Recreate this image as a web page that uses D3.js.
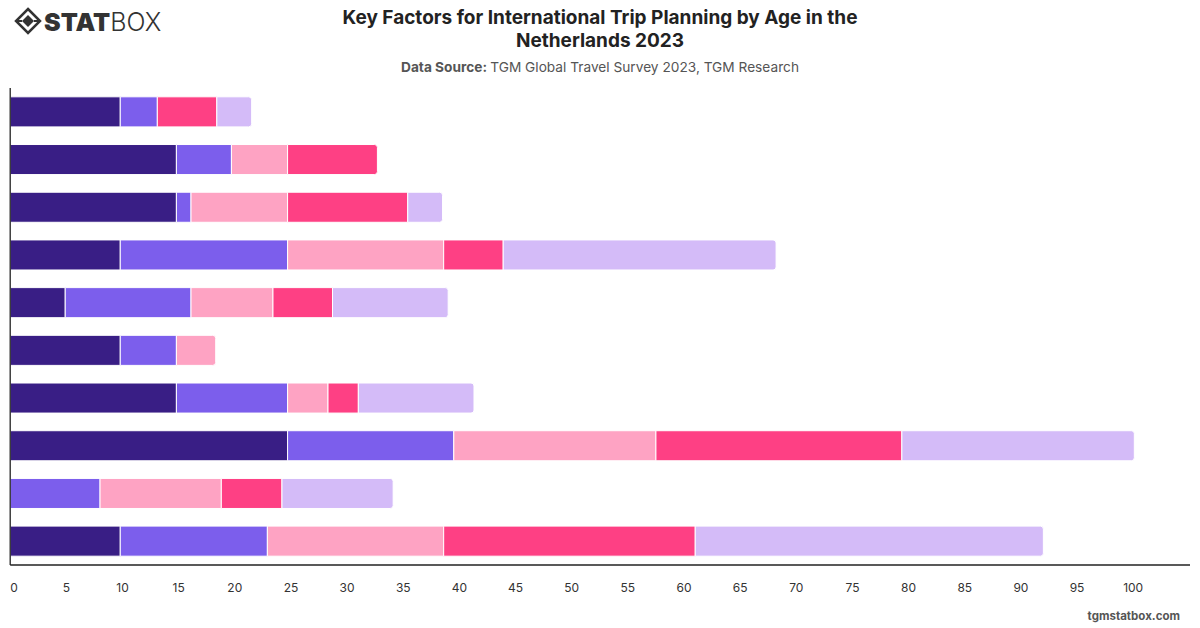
<!DOCTYPE html>
<html>
<head>
<meta charset="utf-8">
<script src="https://cdn.jsdelivr.net/npm/d3@7"></script>
<style>
	body { margin: 0; background: #fff; font-family: Inter, "Noto Sans", sans-serif; }
	svg { display: block; }
</style>
</head>
<body>
<svg id="chart" width="1200" height="628"></svg>
<script>
// categories are not labelled in the chart, so keep neutral names
var categories = ['Factor 1', 'Factor 2', 'Factor 3', 'Factor 4', 'Factor 5',
	'Factor 6', 'Factor 7', 'Factor 8', 'Factor 9', 'Factor 10'];
var seriesNames = ['Group 1', 'Group 2', 'Group 3', 'Group 4', 'Group 5'];
var seriesColors = ['#391e85', '#7c5eec', '#fea3c3', '#fe4084', '#d4bbf8'];

var group1 = [9.8, 14.8, 14.8, 9.8, 4.9, 9.8, 14.8, 24.7, 0, 9.8];
var group2 = [3.3, 4.9, 1.3, 14.9, 11.2, 5.0, 9.9, 14.8, 8.0, 13.1];
var group3 = [0, 5.0, 8.6, 13.9, 7.3, 3.5, 3.6, 18.0, 10.8, 15.7];
var group4 = [5.3, 8.0, 10.7, 5.3, 5.3, 0, 2.7, 21.9, 5.4, 22.4];
var group5 = [3.1, 0, 3.1, 24.3, 10.3, 0, 10.3, 20.7, 9.9, 31.0];

var xTicks = d3.range(0, 101, 5);

var svg = d3.select('#chart');

var rows = categories.map(function(c, i){
	var r = {name: c};
	r[seriesNames[0]] = group1[i];
	r[seriesNames[1]] = group2[i];
	r[seriesNames[2]] = group3[i];
	r[seriesNames[3]] = group4[i];
	r[seriesNames[4]] = group5[i];
	return r;
});

var stacked = d3.stack().keys(seriesNames)(rows);

var x = d3.scaleLinear().domain([0, 100]).range([10.2, 1133.2]);
var y = d3.scaleBand().domain(categories).range([88, 565])
	.paddingInner(0.37).paddingOuter(0.185);

// last non-empty segment of each row gets rounded right corners
var lastKey = rows.map(function(r){
	var k = null;
	seriesNames.forEach(function(s){ if (r[s] > 0) k = s; });
	return k;
});

function segPath(x0, x1, y0, h, round) {
	var r = round ? Math.min(3, (x1 - x0) / 2) : 0;
	return 'M' + x0 + ',' + y0 +
		'H' + (x1 - r) +
		(r ? 'Q' + x1 + ',' + y0 + ' ' + x1 + ',' + (y0 + r) : '') +
		'V' + (y0 + h - r) +
		(r ? 'Q' + x1 + ',' + (y0 + h) + ' ' + (x1 - r) + ',' + (y0 + h) : '') +
		'H' + x0 + 'Z';
}

var layers = svg.append('g').selectAll('g.layer')
	.data(stacked)
	.enter().append('g')
	.classed('layer', true)
	.attr('fill', function(d, i){ return seriesColors[i]; });

layers.selectAll('path')
	.data(function(d){ return d.map(function(p, i){ return {p: p, i: i, key: d.key}; }); })
	.enter().append('path')
	.filter(function(d){ return d.p[1] - d.p[0] > 0; })
	.attr('d', function(d){
		return segPath(x(d.p[0]), x(d.p[1]), y(categories[d.i]), y.bandwidth(), lastKey[d.i] === d.key);
	})
	.attr('stroke', '#fff')
	.attr('stroke-width', 1);

// axes lines
svg.append('line')
	.attr('x1', 10.2).attr('x2', 10.2).attr('y1', 88).attr('y2', 565)
	.attr('stroke', '#222').attr('stroke-width', 1.3);
svg.append('line')
	.attr('x1', 10.2).attr('x2', 1190).attr('y1', 565).attr('y2', 565)
	.attr('stroke', '#222').attr('stroke-width', 1.3);

// tick labels
svg.append('g').selectAll('text')
	.data(xTicks)
	.enter().append('text')
	.attr('x', function(d){ return x(d); })
	.attr('y', 592)
	.attr('text-anchor', function(d){ return d === 0 ? 'start' : 'middle'; })
	.attr('font-size', 12)
	.attr('fill', '#333')
	.text(function(d){ return d; });

// title
var title = svg.append('text')
	.attr('x', 600).attr('y', 24)
	.attr('text-anchor', 'middle')
	.attr('font-size', 19)
	.attr('font-weight', 700)
	.attr('fill', '#222');
title.append('tspan').attr('x', 600).text('Key Factors for International Trip Planning by Age in the');
title.append('tspan').attr('x', 600).attr('dy', 23).text('Netherlands 2023');

var sub = svg.append('text')
	.attr('x', 600).attr('y', 72)
	.attr('text-anchor', 'middle')
	.attr('font-size', 13.7)
	.attr('fill', '#555');
sub.append('tspan').attr('font-weight', 700).text('Data Source: ');
sub.append('tspan').text('TGM Global Travel Survey 2023, TGM Research');

// footer
svg.append('text')
	.attr('x', 1180).attr('y', 620)
	.attr('text-anchor', 'end')
	.attr('font-size', 11.5)
	.attr('font-weight', 700)
	.attr('fill', '#555')
	.text('tgmstatbox.com');

// logo
var logo = svg.append('g').attr('transform', 'translate(28,21)');
logo.append('path')
	.attr('d', 'M0,-12 L12,0 L0,12 L-12,0 Z')
	.attr('fill', 'none').attr('stroke', '#333').attr('stroke-width', 2.5);
logo.append('path')
	.attr('d', 'M0,-6 L6,0 L0,6 L-6,0 Z')
	.attr('fill', '#333');
logo.append('path')
	.attr('d', 'M-12,0 L-6,0 M6,0 L12,0')
	.attr('stroke', '#333').attr('stroke-width', 2);
var logoText = svg.append('text')
	.attr('x', 44).attr('y', 31)
	.attr('font-size', 25)
	.attr('fill', '#333');
logoText.append('tspan').attr('font-weight', 900).text('STAT');
logoText.append('tspan').attr('font-weight', 300).text('BOX');
</script>
</body>
</html>
